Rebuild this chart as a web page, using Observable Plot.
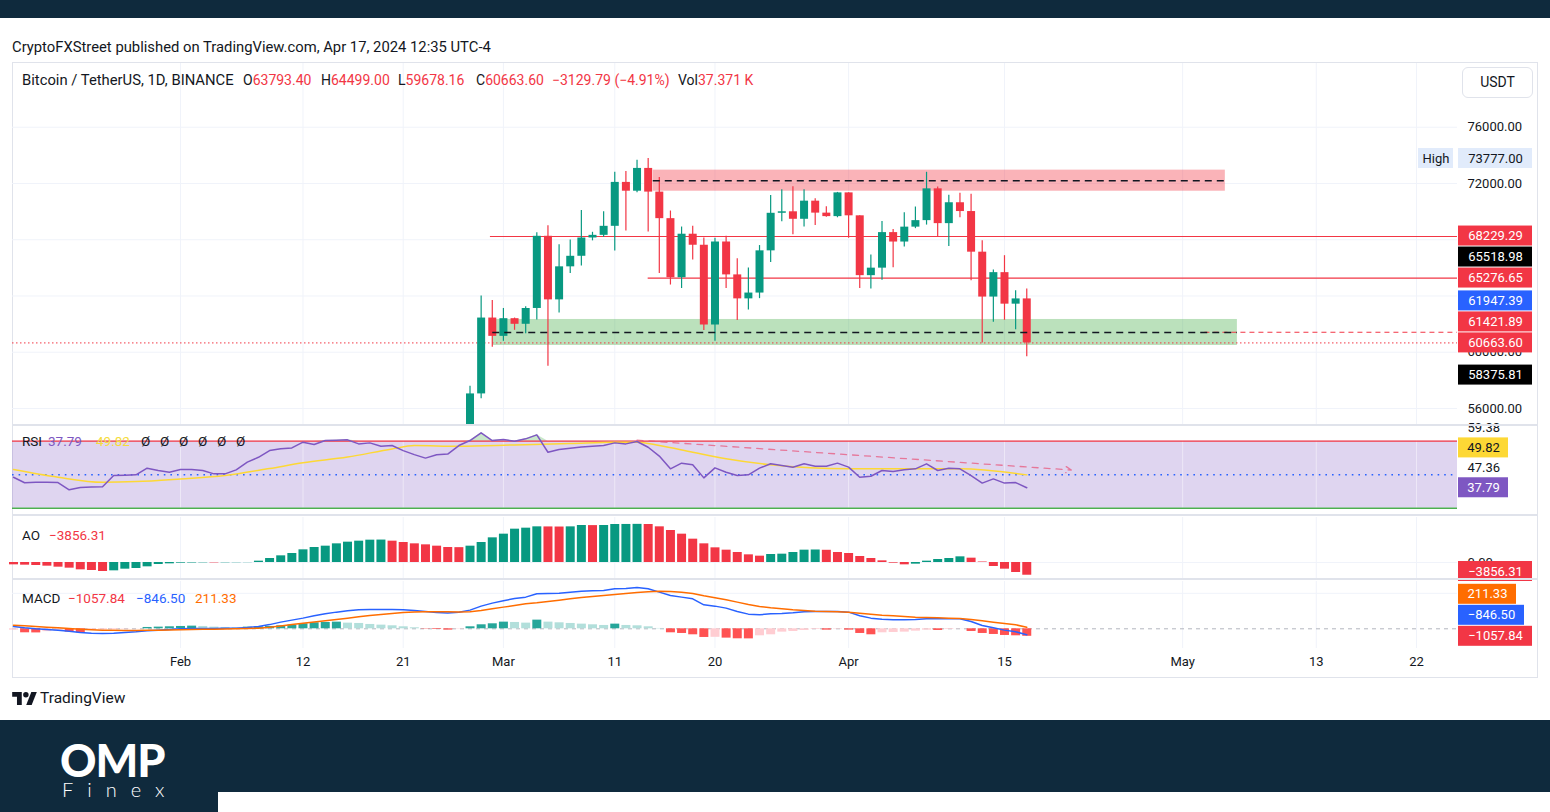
<!DOCTYPE html>
<html>
<head>
<meta charset="utf-8">
<script src="https://cdn.jsdelivr.net/npm/d3@7"></script>
<script src="https://cdn.jsdelivr.net/npm/@observablehq/plot@0.6"></script>
<style>
  html, body { margin:0; padding:0; background:#fff; }
  #page { position:relative; width:1550px; height:812px; overflow:hidden; background:#fff;
          font-family: Roboto, "Noto Sans", "DejaVu Sans", sans-serif; color:#131722; }
  .a { position:absolute; white-space:nowrap; }
  .lg { font-size:13.5px; line-height:16px; }
  .mlg { font-size:14px; line-height:16px; top:72px; }
  .red { color:#f23645; }
  .sep { position:absolute; left:12px; width:1526px; height:2px; background:#e0e3eb; }
  .na { display:inline-block; width:19px; }
</style>
</head>
<body>
<div id="page">
  <div class="a" style="left:0;top:0;width:1550px;height:18px;background:#0f2a3d"></div>
  <div class="a" style="left:12px;top:38px;font-size:14.8px;line-height:18px">CryptoFXStreet published on TradingView.com, Apr 17, 2024 12:35 UTC-4</div>
  <div class="a" style="left:12px;top:62px;width:1526px;height:616px;border:1px solid #e0e3eb;box-sizing:border-box"></div>

  <div id="main" class="a" style="left:12px;top:63px"></div>
  <div id="rsi" class="a" style="left:12px;top:427px"></div>
  <div id="ao" class="a" style="left:12px;top:517px"></div>
  <div id="macd" class="a" style="left:12px;top:581px"></div>

  <div class="sep" style="top:424px"></div>
  <div class="sep" style="top:514px"></div>
  <div class="sep" style="top:578px"></div>

  <!-- legends -->
  <div class="a mlg" style="left:22px;font-size:14.8px">Bitcoin / TetherUS, 1D, BINANCE</div>
  <div class="a mlg" style="left:243px">O<span class="red">63793.40</span></div>
  <div class="a mlg" style="left:321px">H<span class="red">64499.00</span></div>
  <div class="a mlg" style="left:398px">L<span class="red">59678.16</span></div>
  <div class="a mlg" style="left:476px">C<span class="red">60663.60</span></div>
  <div class="a mlg red" style="left:552px">−3129.79 (−4.91%)</div>
  <div class="a mlg" style="left:678px">Vol<span class="red">37.371 K</span></div>

  <div class="a lg" style="left:22px;top:433px">RSI</div>
  <div class="a lg" style="left:48px;top:433px;color:#7e57c2">37.79</div>
  <div class="a lg" style="left:96px;top:433px;color:#f5dc3c">49.82</div>
  <div class="a lg" style="left:141px;top:433px"><span class="na">Ø</span><span class="na">Ø</span><span class="na">Ø</span><span class="na">Ø</span><span class="na">Ø</span><span class="na">Ø</span></div>

  <div class="a lg" style="left:22px;top:527px">AO</div>
  <div class="a lg red" style="left:49px;top:527px">−3856.31</div>

  <div class="a lg" style="left:22px;top:590px">MACD</div>
  <div class="a lg red" style="left:68px;top:590px">−1057.84</div>
  <div class="a lg" style="left:136px;top:590px;color:#2962ff">−846.50</div>
  <div class="a lg" style="left:195px;top:590px;color:#ff6d00">211.33</div>

  <div class="a" style="left:1462px;top:67px;width:71px;height:31px;border:1px solid #e0e3eb;border-radius:6px;box-sizing:border-box;font-size:14px;line-height:29px;text-align:center;background:#fff">USDT</div>

  <!-- TradingView footer -->
  <svg class="a" style="left:12px;top:692px" width="25" height="13" viewBox="0 0 36 19">
    <path d="M14 19H7V7H0V0h14z" fill="#131722"/><circle cx="20" cy="4" r="4" fill="#131722"/><path d="M28 0h8l-7.5 19H20.5z" fill="#131722"/>
  </svg>
  <div class="a" style="left:40px;top:689px;font-size:15.5px;line-height:18px">TradingView</div>

  <!-- bottom band -->
  <div class="a" style="left:0;top:720px;width:1550px;height:92px;background:#0f2a3d"></div>
  <div class="a" style="left:218px;top:792px;width:1332px;height:20px;background:#fff"></div>
  <div class="a" style="left:60px;top:733px;font-family:Lato;font-weight:900;font-size:45px;line-height:54px;color:#fff;letter-spacing:-1px">OMP</div>
  <div class="a" style="left:62px;top:777px;font-family:Lato;font-weight:300;font-size:20px;line-height:24px;color:#fff;letter-spacing:14px">Finex</div>
</div>

<script>
// ================= DATA =================
const candleDates = ["2024-02-27","2024-02-28","2024-02-29",
  "2024-03-01","2024-03-02","2024-03-03","2024-03-04","2024-03-05","2024-03-06","2024-03-07","2024-03-08","2024-03-09","2024-03-10",
  "2024-03-11","2024-03-12","2024-03-13","2024-03-14","2024-03-15","2024-03-16","2024-03-17","2024-03-18","2024-03-19","2024-03-20",
  "2024-03-21","2024-03-22","2024-03-23","2024-03-24","2024-03-25","2024-03-26","2024-03-27","2024-03-28","2024-03-29","2024-03-30","2024-03-31",
  "2024-04-01","2024-04-02","2024-04-03","2024-04-04","2024-04-05","2024-04-06","2024-04-07","2024-04-08","2024-04-09","2024-04-10",
  "2024-04-11","2024-04-12","2024-04-13","2024-04-14","2024-04-15","2024-04-16","2024-04-17"];
const opens = [54476,57037,62432,
  61130,62387,61988,63113,68246,63724,66074,66824,68125,68313,68955,72078,71452,73072,71388,69500,65300,68393,67609,61937,
  67840,65501,63796,64209,67211,69881,69988,69455,70744,69893,69645,
  71333,69702,65447,65980,68508,67837,68896,69360,71620,69146,70631,70006,67117,63924,65661,63419,63793.40];
const highs = [57588,64000,63676,
  63114,62433,63231,68499,69000,67637,67985,70083,68530,69987,72800,72850,73650,73777,72419,70043,68904,68956,68124,68100,
  68240,66650,65999,67587,71150,71561,71769,71552,70916,70355,71366,
  71342,69708,66914,69291,68725,69918,70327,72797,71758,71172,71305,71227,67931,65840,66867,64365,64499.00];
const lows = [54450,56691,60364,
  60777,61561,61321,62300,59005,62787,65603,66131,67922,68183,67194,68620,71334,68555,65600,64780,64533,66566,61555,60775,
  64529,62260,63000,63812,66385,69280,68359,68903,69009,69601,69562,
  68110,64533,64493,65113,66011,67491,68789,69043,68210,67518,69567,65086,60660,62134,62274,61600,59678.16];
const closes = [57037,62432,61130,
  62387,61987,63113,68245,63724,66074,66823,68124,68313,68955,72078,71452,73072,71388,69500,65300,68393,67609,61937,67840,
  65501,63796,64209,67211,69881,69988,69455,70744,69893,69645,71333,
  69702,65447,65980,68508,67837,68896,69360,71620,69146,70631,70006,67116,63924,65661,63419,63793,60663.60];

// indicator series: one value per day from Jan 17 to Apr 17
const indicatorStart = "2024-01-17";
const rsiValues = [
  48.5,45.2,45.5,45.5,45.3,41.0,42.4,42.6,42.8,49.5,49.7,49.9,53.9,52.5,51.5,
  53.1,53.1,52.5,50.5,50.5,52.9,57.5,60.4,64.4,65.5,66.0,69.4,68.0,70.4,70.6,70.8,68.4,69.0,67.0,67.4,64.4,62.0,59.9,61.9,62.3,67.4,70.4,75.0,70.4,
  71.0,70.0,71.4,73.8,63.4,65.0,65.8,66.6,67.0,67.4,69.0,68.4,69.8,66.4,61.1,53.5,56.9,55.9,48.1,54.1,51.5,49.5,49.9,53.9,56.5,55.5,54.5,56.5,55.1,55.1,56.9,
  54.5,48.5,49.1,52.5,51.9,52.9,53.5,56.5,52.5,53.9,53.5,49.5,45.0,47.5,45.0,45.3,42.2];
const rsiMaDates = ["2024-01-17","2024-01-21","2024-01-25","2024-01-28","2024-02-01","2024-02-05","2024-02-09","2024-02-12",
  "2024-02-16","2024-02-20","2024-02-22","2024-02-26","2024-03-02","2024-03-07","2024-03-11","2024-03-13","2024-03-15",
  "2024-03-18","2024-03-21","2024-03-25","2024-04-01","2024-04-07","2024-04-11","2024-04-17"];
const rsiMaValues = [53.1,48.5,45.5,45.9,47.5,49.5,53.7,57.1,60.5,65.4,67.4,67.0,67.8,68.6,69.4,69.4,67.4,63.4,59.5,55.9,53.5,53.5,53.5,49.9];
const rsiTrendDates = ["2024-03-13","2024-04-21"];
const rsiTrendValues = [70.6, 52.8];
const rsiTickLabels = ["59.38","47.36"];
const rsiTickLevels = [78.2, 54.0];
const rsiLabel = "37.79";
const rsiMaLabel = "49.82";
const rsiMaLabelLevel = 66.0;

const aoValues = [
  -707,-808,-909,-1111,-1414,-1717,-2222,-2424,-2727,-2525,-2020,-1818,-1313,-606,-404,
  -202,-150,-100,-120,-90,-70,-50,404,1212,2020,2727,3838,4545,4949,5656,6161,6464,6767,6800,6464,6060,5656,5353,4949,4545,4500,4949,6060,7474,
  8585,10100,10403,10807,10780,10750,10800,11211,11180,11220,11514,11530,11560,11520,10807,9696,8585,7070,5656,4444,3737,3030,2323,1919,2424,2525,3030,3737,3790,3700,3030,
  2727,1818,1212,505,-202,-707,-505,404,909,1212,1717,1313,150,-1212,-2020,-3030,-3856.31];

const macdValues = [
  329,141,0,-94,-188,-329,-517,-611,-658,-611,-517,-423,-282,-188,-94,
  0,47,47,47,70,94,188,329,590,940,1222,1504,1833,2115,2350,2538,2679,2726,2726,2726,2679,2585,2444,2303,2220,2330,2632,3196,3619,
  3948,4277,4465,4935,4982,5029,5170,5311,5358,5405,5640,5687,5828,5640,5170,4700,4465,4230,3384,3196,2914,2444,2068,1974,2115,2162,2256,2397,2444,2444,2444,
  2350,1833,1504,1363,1269,1269,1316,1410,1410,1410,1410,1034,470,141,-188,-423,-846.50];
const signalValues = [
  517,423,329,235,141,47,-47,-118,-188,-211,-235,-235,-211,-188,-164,
  -141,-94,-70,-47,-23,0,47,94,211,400,590,780,950,1130,1320,1500,1690,1880,2020,2160,2300,2380,2420,2420,2400,2380,2420,2580,2820,
  3055,3290,3525,3666,3854,4042,4230,4418,4559,4700,4841,4982,5123,5217,5311,5264,5170,4982,4653,4371,4089,3760,3431,3149,2961,2820,2679,2585,2491,2444,2397,
  2350,2209,2068,1927,1833,1739,1645,1598,1551,1504,1457,1316,1128,940,752,564,211.33];
const histValues = [
  -188,-564,-580,-400,-350,-470,-564,-188,-141,-94,-47,-20,188,235,282,
  329,376,329,235,188,141,235,282,329,423,517,705,846,893,940,799,752,611,517,423,282,141,-47,-94,-188,-47,282,564,705,
  940,893,800,1222,940,846,752,658,564,470,658,470,423,282,47,-564,-658,-846,-1222,-1200,-1316,-1410,-1420,-987,-846,-470,-376,-235,-94,-188,-60,
  -188,-658,-846,-564,-517,-470,-329,-188,-235,-94,-23,-376,-658,-799,-940,-987,-1057.84];

const tickDates = ["2024-02-01","2024-02-12","2024-02-21","2024-03-01","2024-03-11","2024-03-20",
                   "2024-04-01","2024-04-15","2024-05-01","2024-05-13","2024-05-22"];
const priceTicks = [56000,60000,64000,68000,72000,76000];
const priceTickLabels = [56000,60000,64000,72000,76000];   // 68000.00 is fully covered by a value tag in the original

const zoneKinds = ["supply","demand"];
const zoneFrom = ["2024-03-14T11:00:00Z","2024-02-29T01:00:00Z"];
const zoneTo = ["2024-05-04T20:00:00Z","2024-05-05T22:00:00Z"];
const zoneLow = [71450, 60480];
const zoneHigh = [72950, 62330];
const zoneMid = [72200, 61400];

const levelValues = [68229.29, 65276.65];
const levelFrom = ["2024-02-28T20:00:00Z","2024-03-14T00:00:00Z"];
const rayValue = 61421.89;
const rayFrom = "2024-05-03";
const lastPrice = 60663.60;
const highValue = 73777.00;

const mainTagValues = [68229.29, 65518.98, 65276.65, 61947.39, 61421.89, 60663.60, 58375.81];
const mainTagKinds = ["level","pivot","level","signal","level","close","pivot"];

// ================= STYLE =================
const FONT = "Roboto, 'Noto Sans', 'DejaVu Sans', sans-serif";
const INK = "#131722", GRID = "#f0f3fa";
const UP = "#089981", DOWN = "#f23645";
const zoneColor = {supply: "#f23645", demand: "#4caf50"};
const tagStyle = {
  level: {bg: "#f23645", fg: "#ffffff"}, pivot: {bg: "#000000", fg: "#ffffff"},
  signal: {bg: "#2962ff", fg: "#ffffff"}, close: {bg: "#f23645", fg: "#ffffff"},
  rsi: {bg: "#7e57c2", fg: "#ffffff"}, rsiMa: {bg: "#fdd835", fg: INK},
  ao: {bg: "#f23645", fg: "#ffffff"}, macd: {bg: "#2962ff", fg: "#ffffff"},
  sig: {bg: "#ff6d00", fg: "#ffffff"}, hist: {bg: "#f23645", fg: "#ffffff"}
};
const histColor = {posUp: "#26a69a", posDown: "#b2dfdb", negDown: "#ff5252", negUp: "#ffcdd2"};

// ================= LAYOUT / SCALES =================
const W = 1526, MR = 81, PW = W - MR;
const DAY = 864e5;
const FEB1 = Date.UTC(2024, 1, 1);
const PX_PER_DAY = 11.135;
const xDomain = [new Date(FEB1 - 168 / PX_PER_DAY * DAY), new Date(FEB1 + (PW - 168) / PX_PER_DAY * DAY)];
const xs = d3.scaleUtc(xDomain, [0, PW]);
const parse = s => new Date(s.length > 10 ? s : s + "T00:00:00Z");
const ticksX = tickDates.map(parse);
const fmtTick = d => d.getUTCDate() === 1 ? d3.utcFormat("%b")(d) : String(d.getUTCDate());
const fmt2 = v => (v < 0 ? "−" : "") + Math.abs(v).toFixed(2);

function panel(height, yDomain, marks, marginBottom = 0) {
  return Plot.plot({
    width: W, height, marginLeft: 0, marginRight: MR, marginTop: 0, marginBottom,
    x: {type: "utc", domain: xDomain, axis: null},
    y: {domain: yDomain, axis: null},
    color: {type: "identity"},
    style: {fontFamily: FONT, fontSize: "13px", color: INK, background: "transparent", overflow: "visible"},
    marks
  });
}

// value tags on the price scale, stacked bottom-up so they never overlap
function tagMarks(tags, yDomain, innerH, clampBottom) {
  const ys = d3.scaleLinear(yDomain, [innerH, 0]);
  const arr = tags.map(t => ({...t, py: ys(t.at)})).sort((a, b) => b.py - a.py);
  let limit = clampBottom;
  for (const t of arr) { t.py = Math.min(t.py, limit); limit = t.py - 21; }
  for (const t of arr) {
    const w = 10 + 8 * t.text.length;
    t.x1 = xs.invert(PW + 1); t.x2 = xs.invert(PW + 1 + w); t.xc = xs.invert(PW + 1 + w / 2);
    t.y1 = ys.invert(t.py - 10); t.y2 = ys.invert(t.py + 10); t.yc = ys.invert(t.py);
    t.bg = tagStyle[t.kind].bg; t.fg = tagStyle[t.kind].fg;
  }
  return [
    Plot.rect(arr, {x1: "x1", x2: "x2", y1: "y1", y2: "y2", fill: "bg"}),
    Plot.text(arr, {x: "xc", y: "yc", text: "text", fill: "fg", fontSize: 13})
  ];
}

// ================= MAIN PRICE PANEL =================
const MAIN_DOMAIN = [54791, 80533], MAIN_H = 362;
const candles = candleDates.map((d, i) => ({date: parse(d), o: opens[i], h: highs[i], l: lows[i], c: closes[i]}));
const candleColor = d => d.c >= d.o ? UP : DOWN;
const zones = zoneKinds.map((k, i) => ({kind: k, from: parse(zoneFrom[i]), to: parse(zoneTo[i]), lo: zoneLow[i], hi: zoneHigh[i], mid: zoneMid[i]}));
const levels = levelValues.map((v, i) => ({v, from: parse(levelFrom[i])}));
const ray = {v: rayValue, from: parse(rayFrom)};
const ysMain = d3.scaleLinear(MAIN_DOMAIN, [MAIN_H, 0]);
const hp = ysMain(highValue);
const highBadge = [
  {t: "High", x1: xs.invert(PW - 39), x2: xs.invert(PW - 4), xc: xs.invert(PW - 21.5)},
  {t: highValue.toFixed(2), x1: xs.invert(PW + 1), x2: xs.invert(PW + 75), xc: xs.invert(PW + 38)}
].map(d => ({...d, y1: ysMain.invert(hp - 10), y2: ysMain.invert(hp + 10), yc: highValue}));
const mainTags = mainTagValues.map((v, i) => ({text: v.toFixed(2), at: v, kind: mainTagKinds[i]}));

const mainPlot = panel(MAIN_H, MAIN_DOMAIN, [
  Plot.gridY({ticks: priceTicks, stroke: GRID, strokeOpacity: 1}),
  Plot.gridX({ticks: ticksX, stroke: GRID, strokeOpacity: 1}),
  Plot.rect(zones, {x1: "from", x2: "to", y1: "lo", y2: "hi", fill: d => zoneColor[d.kind], fillOpacity: 0.38, clip: true}),
  Plot.ruleY(levels, {y: "v", x1: "from", x2: () => xDomain[1], stroke: DOWN, strokeWidth: 1.2}),
  Plot.ruleY([ray], {y: "v", x1: "from", x2: () => xDomain[1], stroke: DOWN, strokeWidth: 1.2, strokeDasharray: "5 4"}),
  Plot.ruleY([lastPrice], {stroke: DOWN, strokeWidth: 1, strokeDasharray: "1.5 2.5"}),
  Plot.ruleX(candles, {x: "date", y1: "l", y2: "h", stroke: candleColor, strokeWidth: 1.2, clip: true}),
  Plot.ruleX(candles, {x: "date", y1: "o", y2: "c", stroke: candleColor, strokeWidth: 8, clip: true}),
  Plot.ruleY(zones, {y: "mid", x1: "from", x2: "to", stroke: INK, strokeWidth: 1.5, strokeDasharray: "7 5"}),
  Plot.axisY({anchor: "right", ticks: priceTickLabels, tickFormat: d => d.toFixed(2), tickSize: 0, tickPadding: 10, fontSize: 13}),
  Plot.rect(highBadge, {x1: "x1", x2: "x2", y1: "y1", y2: "y2", fill: "#e1ebfb"}),
  Plot.text(highBadge, {x: "xc", y: "yc", text: "t", fill: INK, fontSize: 13}),
  ...tagMarks(mainTags, MAIN_DOMAIN, MAIN_H, MAIN_H - 8)
]);
document.getElementById("main").append(mainPlot);

// ================= RSI PANEL =================
const start = parse(indicatorStart);
const indDates = rsiValues.map((_, i) => d3.utcDay.offset(start, i));
const RSI_DOMAIN = [26.24, 78.18], RSI_H = 87;
const rsiRows = indDates.map((d, i) => ({date: d, v: rsiValues[i]}));
const maRows = rsiMaDates.map((d, i) => ({date: parse(d), v: rsiMaValues[i]}));
const trend = {x1: parse(rsiTrendDates[0]), y1: rsiTrendValues[0], x2: parse(rsiTrendDates[1]), y2: rsiTrendValues[1]};
const rsiTicks = rsiTickLabels.map((t, i) => ({t, at: rsiTickLevels[i]}));
const rsiTags = [
  {text: rsiMaLabel, at: rsiMaLabelLevel, kind: "rsiMa"},
  {text: rsiLabel, at: rsiValues[rsiValues.length - 1], kind: "rsi"}
];
const rsiPlot = panel(RSI_H, RSI_DOMAIN, [
  Plot.rect([0], {x1: () => xDomain[0], x2: () => xDomain[1], y1: () => 30, y2: () => 70, fill: "#7e57c2", fillOpacity: 0.25}),
  Plot.gridX({ticks: ticksX, stroke: "#ffffff", strokeOpacity: 0.45}),
  Plot.areaY(rsiRows, {x: "date", y1: () => 70, y2: d => Math.max(70, d.v), fill: "#4caf50", fillOpacity: 0.3}),
  Plot.ruleY([70], {stroke: "#f23645", strokeWidth: 1.3}),
  Plot.ruleY([30], {stroke: "#4caf50", strokeWidth: 1.6}),
  Plot.ruleY([50], {stroke: "#2962ff", strokeWidth: 1.6, strokeDasharray: "1.6 5"}),
  Plot.arrow([trend], {x1: "x1", y1: "y1", x2: "x2", y2: "y2", stroke: "#e8577c", strokeOpacity: 0.75, strokeWidth: 1.3, strokeDasharray: "6 6", headLength: 7}),
  Plot.line(maRows, {x: "date", y: "v", stroke: "#fdd835", strokeWidth: 1.5, curve: "monotone-x"}),
  Plot.line(rsiRows, {x: "date", y: "v", stroke: "#7e57c2", strokeWidth: 1.5}),
  Plot.text(rsiTicks, {y: "at", text: "t", frameAnchor: "right", dx: 10, textAnchor: "start", fill: INK, fontSize: 13}),
  ...tagMarks(rsiTags, RSI_DOMAIN, RSI_H, RSI_H - 8)
]);
document.getElementById("rsi").append(rsiPlot);

// ================= AO PANEL =================
const AO_DOMAIN = [-4848, 13635], AO_H = 61;
const aoRows = indDates.map((d, i) => ({date: d, v: aoValues[i], rising: i > 0 && aoValues[i] > aoValues[i - 1]}));
const aoPlot = panel(AO_H, AO_DOMAIN, [
  Plot.gridX({ticks: ticksX, stroke: GRID, strokeOpacity: 1}),
  Plot.ruleY([0], {stroke: GRID}),
  Plot.ruleX(aoRows, {x: "date", y1: () => 0, y2: "v", stroke: d => d.rising ? UP : DOWN, strokeWidth: 9}),
  Plot.axisY({anchor: "right", ticks: [0], tickFormat: d => d.toFixed(2), tickSize: 0, tickPadding: 10, fontSize: 13}),
  ...tagMarks([{text: fmt2(aoValues[aoValues.length - 1]), at: aoValues[aoValues.length - 1], kind: "ao"}], AO_DOMAIN, AO_H, AO_H - 7)
]);
document.getElementById("ao").append(aoPlot);

// ================= MACD PANEL =================
const MACD_DOMAIN = [-2778, 6669], MACD_H = 67, AXIS_H = 30;
const histRows = indDates.map((d, i) => {
  const v = histValues[i], p = i ? histValues[i - 1] : v;
  return {date: d, v, kind: v >= 0 ? (v > p ? "posUp" : "posDown") : (v < p ? "negDown" : "negUp")};
});
const macdRows = indDates.map((d, i) => ({date: d, v: macdValues[i]}));
const signalRows = indDates.map((d, i) => ({date: d, v: signalValues[i]}));
const last = a => a[a.length - 1];
const macdTags = [
  {text: fmt2(last(signalValues)), at: last(signalValues), kind: "sig"},
  {text: fmt2(last(macdValues)), at: last(macdValues), kind: "macd"},
  {text: fmt2(last(histValues)), at: last(histValues), kind: "hist"}
];
const macdPlot = panel(MACD_H + AXIS_H, MACD_DOMAIN, [
  Plot.gridX({ticks: ticksX, stroke: GRID, strokeOpacity: 1}),
  Plot.gridY({ticks: [5000], stroke: GRID, strokeOpacity: 1}),
  Plot.ruleY([0], {stroke: "#b2b5be", strokeDasharray: "4 4"}),
  Plot.ruleX(histRows, {x: "date", y1: () => 0, y2: "v", stroke: d => histColor[d.kind], strokeWidth: 9}),
  Plot.line(macdRows, {x: "date", y: "v", stroke: "#2962ff", strokeWidth: 1.5}),
  Plot.line(signalRows, {x: "date", y: "v", stroke: "#ff6d00", strokeWidth: 1.5}),
  Plot.axisX({ticks: ticksX, tickFormat: fmtTick, tickSize: 0, tickPadding: 8, fontSize: 13}),
  ...tagMarks(macdTags, MACD_DOMAIN, MACD_H, MACD_H - 7)
], AXIS_H);
document.getElementById("macd").append(macdPlot);
</script>
</body>
</html>
